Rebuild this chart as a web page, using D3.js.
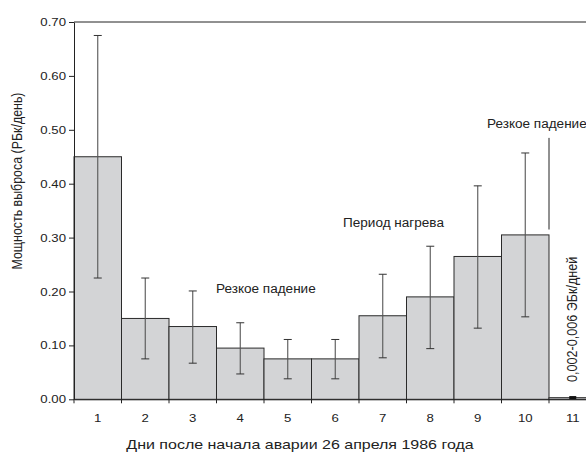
<!DOCTYPE html>
<html><head><meta charset="utf-8">
<script src="https://cdn.jsdelivr.net/npm/d3@7/dist/d3.min.js"></script>
<style>body{margin:0;background:#fff}svg{display:block;font-family:"Liberation Sans",Arial,sans-serif}</style>
</head><body><svg id="c" width="586" height="455"></svg>
<script>
const days = ["1","2","3","4","5","6","7","8","9","10","11"];
const values = [0.45,0.15,0.135,0.095,0.075,0.075,0.155,0.19,0.265,0.305,0.003];
const errLow = [0.225,0.075,0.067,0.047,0.038,0.038,0.077,0.094,0.132,0.153,0.002];
const errHigh = [0.675,0.225,0.201,0.142,0.111,0.111,0.232,0.284,0.396,0.457,0.006];
const yTicks = [0,0.1,0.2,0.3,0.4,0.5,0.6,0.7];

const SX = 1.2; // horizontal stretch of text seen in the reference
const svg = d3.select("#c");
const m = {l:74, t:22};
const bw = 47.5;
const W = bw*days.length, H = 377.3;
const g = svg.append("g").attr("transform",`translate(${m.l},${m.t})`);
const x = d3.scaleBand().domain(days).range([0,W]).padding(0);
const y = d3.scaleLinear().domain([0,0.7]).range([H,0]);

// bars
g.selectAll("rect.bar").data(days).join("rect")
 .attr("x",d=>x(d)).attr("width",x.bandwidth())
 .attr("y",(d,i)=>y(values[i])).attr("height",(d,i)=>H-y(values[i]))
 .attr("fill","#d3d4d6").attr("stroke","#2a2a2a").attr("stroke-width",1);

// error bars (first 10)
const eb = g.selectAll("g.eb").data(days.slice(0,10)).join("g")
 .attr("transform",d=>`translate(${x(d)+x.bandwidth()/2},0)`);
eb.append("line").attr("y1",(d,i)=>y(errLow[i])).attr("y2",(d,i)=>y(errHigh[i])).attr("stroke","#555").attr("stroke-width",1.1);
eb.append("line").attr("x1",-4).attr("x2",4).attr("y1",(d,i)=>y(errLow[i])).attr("y2",(d,i)=>y(errLow[i])).attr("stroke","#333");
eb.append("line").attr("x1",-4).attr("x2",4).attr("y1",(d,i)=>y(errHigh[i])).attr("y2",(d,i)=>y(errHigh[i])).attr("stroke","#333");
// day 11 range marker
g.append("rect").attr("x",x("11")+x.bandwidth()/2-3.5).attr("width",7)
 .attr("y",y(errHigh[10])).attr("height",y(errLow[10])-y(errHigh[10])+1).attr("fill","#111");

// axes
const ya = g.append("g").call(d3.axisLeft(y).tickValues(yTicks).tickFormat(d3.format(".2f")).tickSize(5).tickSizeOuter(0));
ya.select(".domain").attr("stroke","#222");
ya.selectAll(".tick line").attr("stroke","#222");
ya.selectAll("text").attr("font-size",11).attr("fill","#222").attr("x",0)
  .attr("transform",`translate(-8,0) scale(${SX},1)`).attr("font-family","Liberation Sans, Arial, sans-serif");

const xa = g.append("g").attr("transform",`translate(0,${H})`)
 .call(d3.axisBottom(x).tickSize(0).tickSizeOuter(0));
xa.select(".domain").attr("stroke","#222");
xa.selectAll("text").attr("font-size",11).attr("fill","#222").attr("y",0).attr("dy",0)
  .attr("transform",`translate(0,22.5) scale(${SX},1)`).attr("font-family","Liberation Sans, Arial, sans-serif");
// boundary ticks
g.selectAll("line.bt").data(d3.range(days.length+1)).join("line")
 .attr("x1",i=>i*bw).attr("x2",i=>i*bw).attr("y1",H).attr("y2",H+4).attr("stroke","#222");

// top frame line
g.append("line").attr("x1",0).attr("x2",W).attr("y1",0).attr("y2",0).attr("stroke","#222");

// divider line between 10 and 11
g.append("line").attr("x1",x("11")).attr("x2",x("11")).attr("y1",y(0.485)).attr("y2",y(0.315)).attr("stroke","#222");

// annotations
const ann = svg.append("g").attr("font-size",12).attr("fill","#222");
const S2 = 1.13;
ann.append("text").attr("transform",`translate(216,293) scale(${S2},1)`).text("Резкое падение");
ann.append("text").attr("transform",`translate(343,227) scale(${S2},1)`).text("Период нагрева");
ann.append("text").attr("transform",`translate(487,128) scale(${S2},1)`).text("Резкое падение");
ann.append("text").attr("transform","translate(577,382) rotate(-90) scale(1,1.15)").attr("font-size",12.6).text("0,002-0,006 ЭБк/дней");

// titles
svg.append("text").attr("transform","translate(22,181) rotate(-90) scale(1,1.15)").attr("text-anchor","middle").attr("font-size",12.4).attr("fill","#222").text("Мощность выброса (РБк/день)");
svg.append("text").attr("transform",`translate(300,449) scale(1.23,1)`).attr("text-anchor","middle").attr("font-size",13).attr("fill","#222").text("Дни после начала аварии 26 апреля 1986 года");
</script></body></html>
